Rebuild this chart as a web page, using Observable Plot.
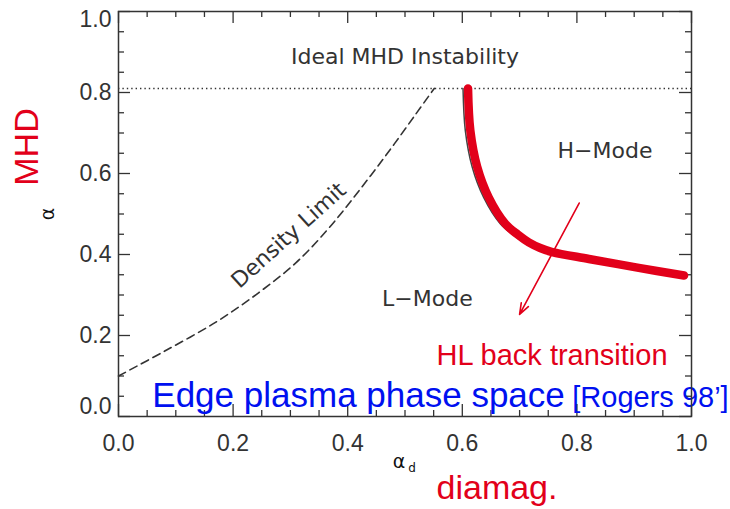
<!DOCTYPE html>
<html><head><meta charset="utf-8">
<script src="https://cdn.jsdelivr.net/npm/d3@7"></script>
<script src="https://cdn.jsdelivr.net/npm/@observablehq/plot@0.6"></script>
<style>body{margin:0;background:#fff}</style>
</head><body><div id="chart"></div>
<script>
// ---- data ----
const majorTicks = [0, 0.2, 0.4, 0.6, 0.8, 1.0];
const tickLabels = ["0.0", "0.2", "0.4", "0.6", "0.8", "1.0"];
const minorTicks = [0.05, 0.1, 0.15, 0.25, 0.3, 0.35, 0.45, 0.5, 0.55, 0.65, 0.7, 0.75, 0.85, 0.9, 0.95];
const mhdLimit = [0.81];
const densityX = [0, 0.08, 0.17, 0.245, 0.31, 0.367, 0.42, 0.472, 0.518, 0.551];
const densityY = [0.1, 0.161, 0.233, 0.306, 0.38, 0.465, 0.558, 0.655, 0.745, 0.81];
const hlX = [0.61, 0.614, 0.626, 0.646, 0.675, 0.697, 0.716, 0.736, 0.757, 0.821, 0.908, 0.987];
const hlY = [0.81, 0.706, 0.616, 0.541, 0.476, 0.449, 0.43, 0.416, 0.406, 0.389, 0.367, 0.348];
const arrowFrom = [0.804, 0.527];
const arrowTo = [0.70, 0.252];
const regionLabels = ["Ideal MHD Instability", "H\u2212Mode", "L\u2212Mode"];
const regionX = [0.5, 0.849, 0.539];
const regionY = [0.887, 0.655, 0.29];
const densityLabel = {text: "Density Limit", x: 0.297, y: 0.447};
const hlLabel = {text: "HL back transition", x: 0.555, y: 0.151};
const edgeLabel = {text: "Edge plasma phase space", x: 0.059, y: 0.051};
const refLabel = {text: "[Rogers 98\u2019]", x: 0.792, y: 0.047};

// ---- build tables ----
const density = densityX.map((x, i) => ({x, y: densityY[i]}));
const hl = hlX.map((x, i) => ({x, y: hlY[i]}));
const regions = regionLabels.map((t, i) => ({t, x: regionX[i], y: regionY[i]}));
const fmt = d => tickLabels[majorTicks.indexOf(d)];
const innerYTicks = majorTicks.slice(1, -1);

const W = 730, H = 509, mL = 118, mR = 39, mT = 11, mB = 93;
const innerW = W - mL - mR, innerH = H - mT - mB;
const red = "#e2001a", blue = "#0010f0", ink = "#333";
const major = 12, minor = 6;
const labelFont = "DejaVu Sans";

const chart = Plot.plot({
  width: W, height: H,
  marginLeft: mL, marginRight: mR, marginTop: mT, marginBottom: mB,
  x: {domain: [0, 1]},
  y: {domain: [0, 1]},
  style: {fontFamily: "Liberation Sans", fontSize: "23px", color: ink, background: "#fff"},
  marks: [
    // inward ticks, four sides
    Plot.tickX(majorTicks, {x: d => d, insetTop: innerH - major, stroke: ink, strokeWidth: 1.3}),
    Plot.tickX(minorTicks, {x: d => d, insetTop: innerH - minor, stroke: ink, strokeWidth: 1.3}),
    Plot.tickX(majorTicks, {x: d => d, insetBottom: innerH - major, stroke: ink, strokeWidth: 1.3}),
    Plot.tickX(minorTicks, {x: d => d, insetBottom: innerH - minor, stroke: ink, strokeWidth: 1.3}),
    Plot.tickY(majorTicks, {y: d => d, insetRight: innerW - major, stroke: ink, strokeWidth: 1.3}),
    Plot.tickY(minorTicks, {y: d => d, insetRight: innerW - minor, stroke: ink, strokeWidth: 1.3}),
    Plot.tickY(majorTicks, {y: d => d, insetLeft: innerW - major, stroke: ink, strokeWidth: 1.3}),
    Plot.tickY(minorTicks, {y: d => d, insetLeft: innerW - minor, stroke: ink, strokeWidth: 1.3}),
    Plot.axisX(majorTicks, {tickSize: 0, tickPadding: 18, tickFormat: fmt, label: null, fill: ink}),
    Plot.axisY(innerYTicks, {tickSize: 0, tickPadding: 7, tickFormat: fmt, label: null, fill: ink}),
    Plot.axisY([majorTicks[0]], {tickSize: 0, tickPadding: 7, tickFormat: fmt, label: null, fill: ink, dy: -10}),
    Plot.axisY([majorTicks[majorTicks.length - 1]], {tickSize: 0, tickPadding: 7, tickFormat: fmt, label: null, fill: ink, dy: 8}),
    // MHD stability limit
    Plot.ruleY(mhdLimit, {stroke: ink, strokeWidth: 1.5, strokeDasharray: "1.4,3"}),
    // density limit
    Plot.line(density, {x: "x", y: "y", curve: "catmull-rom", stroke: ink, strokeWidth: 1.6, strokeDasharray: "8,5"}),
    // original thin boundary and red overlay
    Plot.line(hl, {x: "x", y: "y", curve: "catmull-rom", stroke: "#444", strokeWidth: 1.5, dx: -5}),
    Plot.line(hl, {x: "x", y: "y", curve: "catmull-rom", stroke: red, strokeWidth: 8.5}),
    Plot.arrow([0], {x1: () => arrowFrom[0], y1: () => arrowFrom[1], x2: () => arrowTo[0], y2: () => arrowTo[1], stroke: red, strokeWidth: 1.6, headLength: 11, headAngle: 40}),
    // region labels
    Plot.text(regions, {x: "x", y: "y", text: "t", fontFamily: labelFont, fontSize: 22, fill: ink}),
    Plot.text([densityLabel], {x: "x", y: "y", text: "text", rotate: -42, fontFamily: labelFont, fontSize: 22, fill: ink}),
    Plot.text([hlLabel], {x: "x", y: "y", text: "text", textAnchor: "start", fontFamily: "Liberation Sans", fontSize: 29, fill: red}),
    Plot.text([edgeLabel], {x: "x", y: "y", text: "text", textAnchor: "start", fontFamily: "Liberation Sans", fontSize: 35, fill: blue}),
    Plot.text([refLabel], {x: "x", y: "y", text: "text", textAnchor: "start", fontFamily: "Liberation Sans", fontSize: 29, fill: blue}),
    // axis titles
    Plot.text(["MHD"], {frameAnchor: "left", textAnchor: "middle", dx: -91, dy: -67, rotate: -90, fontFamily: "Liberation Sans", fontSize: 34, fill: red}),
    Plot.text(["\u03b1"], {frameAnchor: "left", textAnchor: "middle", dx: -71, rotate: -90, fontFamily: labelFont, fontSize: 19, fill: "#111"}),
    Plot.text(["\u03b1"], {frameAnchor: "bottom", dx: -6, dy: 51, fontFamily: labelFont, fontSize: 19, fill: "#111"}),
    Plot.text(["d"], {frameAnchor: "bottom", dx: 7, dy: 55, fontFamily: labelFont, fontSize: 12, fill: "#111"}),
    Plot.text(["diamag."], {frameAnchor: "bottom", dx: 92, dy: 82, fontFamily: "Liberation Sans", fontSize: 34, fill: red}),
    Plot.frame({stroke: ink, strokeWidth: 1.5})
  ]
});
document.getElementById("chart").append(chart);
</script>
</body></html>
